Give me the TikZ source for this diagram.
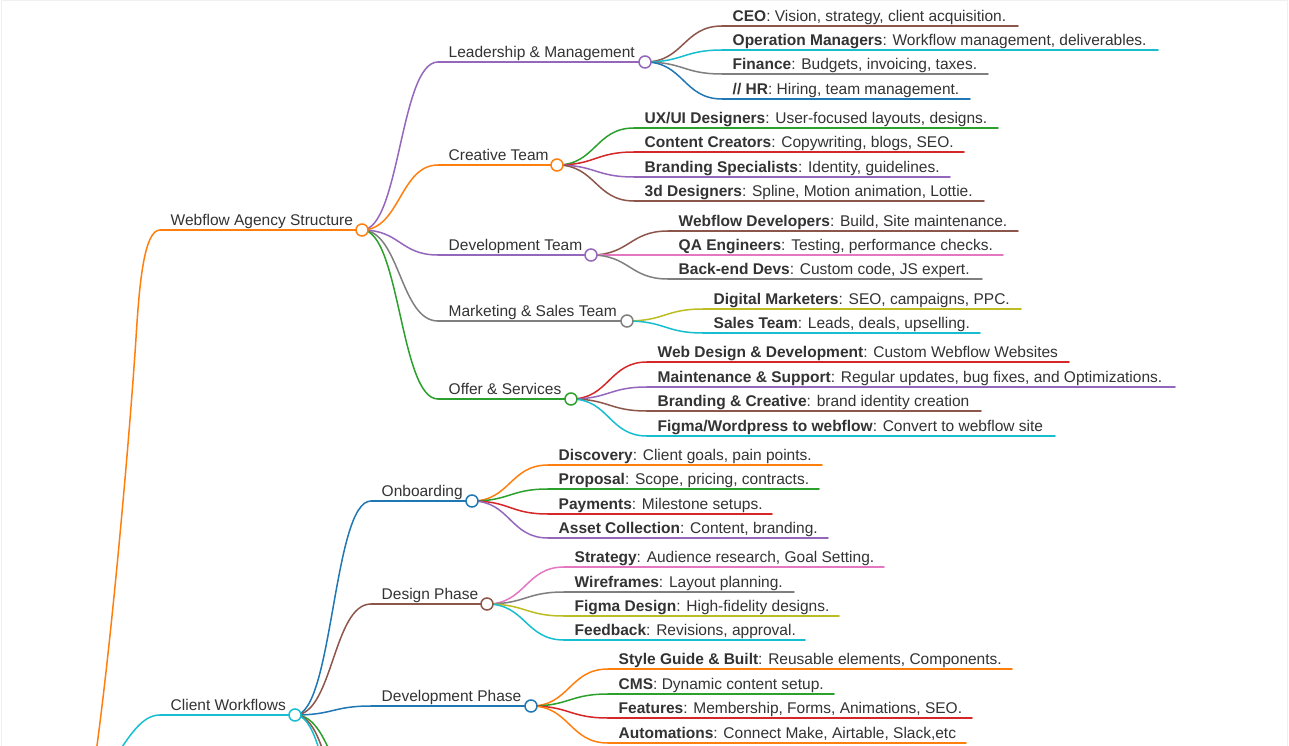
\documentclass[tikz,border=0pt]{standalone}
\usepackage{fontspec}
\setmainfont{Liberation Sans}
\usetikzlibrary{calc}
\definecolor{cblue}{HTML}{1F77B4}
\definecolor{corange}{HTML}{FF7F0E}
\definecolor{cgreen}{HTML}{2CA02C}
\definecolor{cred}{HTML}{D62728}
\definecolor{cpurple}{HTML}{9467BD}
\definecolor{cbrown}{HTML}{8C564B}
\definecolor{cpink}{HTML}{E377C2}
\definecolor{cgrey}{HTML}{7F7F7F}
\definecolor{colive}{HTML}{BCBD22}
\definecolor{ccyan}{HTML}{17BECF}
\definecolor{txt}{HTML}{333333}
\tikzset{
  ln/.style={line width=1.5pt, line cap=round},
  lbl/.style={anchor=base west, inner sep=0pt, text=txt, font=\fontsize{15.5}{18}\selectfont},
  dot/.style={circle, fill=white, line width=1.5pt, minimum size=12pt, inner sep=0pt},
  frame/.style={draw=black!6, line width=1pt}
}
\newcommand\mmnode[6]{%
  \coordinate (#1-s) at (#3,#4);
  \coordinate (#1-e) at (#5,#4);
  \draw[ln,#2] (#1-s) -- (#1-e);
  \node[lbl] (#1) at (#3+10.5,#4-4.5) {#6};}
\newcommand\mmlink[3]{%
  \draw[ln,#1] let \p1=(#2), \p2=(#3) in (#2) .. controls ({(\x1+\x2)/2},\y1) and ({(\x1+\x2)/2},\y2) .. (#3);}
\newcommand\mmdot[2]{\node[dot,draw=#2] (#1-c) at (#1-e) {};}
\begin{document}
\begin{tikzpicture}[x=1pt,y=-1pt]
\useasboundingbox (0,0) rectangle (1289,746);
\clip (0,0) rectangle (1289,746);
\fill[white] (0,0) rectangle (1289,746);
\draw[frame] (1.5,900) -- (1.5,1) -- (1287.5,1) -- (1287.5,900);
% level 1
\mmnode{wa}{corange}{160}{230}{362}{Webflow Agency Structure}
\mmnode{cw}{ccyan}{160}{715}{295}{Client Workflows}
% level 2 (agency)
\mmnode{lm}{cpurple}{438}{62}{645}{Leadership \& Management}
\mmnode{ct}{corange}{438}{165}{557}{Creative Team}
\mmnode{dt}{cpurple}{438}{255}{591}{Development Team}
\mmnode{ms}{cgrey}{438}{321}{627}{Marketing \& Sales Team}
\mmnode{os}{cgreen}{438}{399}{571}{Offer \& Services}
% leadership
\mmnode{ceo}{cbrown}{722}{26}{1018}{\textbf{CEO}: Vision, strategy, client acquisition.}
\mmnode{opm}{ccyan}{722}{50}{1158}{\textbf{Operation Managers}: Workflow management, deliverables.}
\mmnode{fin}{cgrey}{722}{74}{988}{\textbf{Finance}: Budgets, invoicing, taxes.}
\mmnode{hr}{cblue}{722}{99}{970}{\textbf{// HR}: Hiring, team management.}
% creative
\mmnode{ux}{cgreen}{634}{128}{998}{\textbf{UX/UI Designers}: User-focused layouts, designs.}
\mmnode{cc}{cred}{634}{152}{964}{\textbf{Content Creators}: Copywriting, blogs, SEO.}
\mmnode{bs}{cpurple}{634}{177}{950}{\textbf{Branding Specialists}: Identity, guidelines.}
\mmnode{dd}{cbrown}{634}{201}{984}{\textbf{3d Designers}: Spline, Motion animation, Lottie.}
% development team
\mmnode{wd}{cbrown}{668}{231}{1018}{\textbf{Webflow Developers}: Build, Site maintenance.}
\mmnode{qa}{cpink}{668}{255}{1003}{\textbf{QA Engineers}: Testing, performance checks.}
\mmnode{be}{cgrey}{668}{279}{982}{\textbf{Back-end Devs}: Custom code, JS expert.}
% marketing
\mmnode{dm}{colive}{703}{309}{1021}{\textbf{Digital Marketers}: SEO, campaigns, PPC.}
\mmnode{st}{ccyan}{703}{333}{980}{\textbf{Sales Team}: Leads, deals, upselling.}
% offer
\mmnode{wdd}{cred}{647}{362}{1069}{\textbf{Web Design \& Development}: Custom Webflow Websites}
\mmnode{mnt}{cpurple}{647}{387}{1175}{\textbf{Maintenance \& Support}: Regular updates, bug fixes, and Optimizations.}
\mmnode{brc}{cbrown}{647}{411}{981}{\textbf{Branding \& Creative}: brand identity creation}
\mmnode{fig}{ccyan}{647}{436}{1055}{\textbf{Figma/Wordpress to webflow}: Convert to webflow site}
% level 2 (client)
\mmnode{ob}{cblue}{371}{501}{472}{Onboarding}
\mmnode{dp}{cbrown}{371}{604}{487}{Design Phase}
\mmnode{dvp}{cblue}{371}{706}{531}{Development Phase}
\coordinate (cx1) at (370,800);
\coordinate (cx2) at (370,850);
\coordinate (cx3) at (370,900);
% onboarding
\mmnode{dis}{corange}{548}{465}{822}{\textbf{Discovery}: Client goals, pain points.}
\mmnode{pro}{cgreen}{548}{489}{819}{\textbf{Proposal}: Scope, pricing, contracts.}
\mmnode{pay}{cred}{548}{514}{772}{\textbf{Payments}: Milestone setups.}
\mmnode{ac}{cpurple}{548}{538}{828}{\textbf{Asset Collection}: Content, branding.}
% design phase
\mmnode{str}{cpink}{564}{567}{884}{\textbf{Strategy}: Audience research, Goal Setting.}
\mmnode{wf}{cgrey}{564}{592}{794}{\textbf{Wireframes}: Layout planning.}
\mmnode{fd}{colive}{564}{616}{839}{\textbf{Figma Design}: High-fidelity designs.}
\mmnode{fb}{ccyan}{564}{640}{805}{\textbf{Feedback}: Revisions, approval.}
% development phase
\mmnode{sg}{corange}{608}{669}{1012}{\textbf{Style Guide \& Built}: Reusable elements, Components.}
\mmnode{cms}{cgreen}{608}{694}{834}{\textbf{CMS}: Dynamic content setup.}
\mmnode{fea}{cred}{608}{718}{972}{\textbf{Features}: Membership, Forms, Animations, SEO.}
\mmnode{aut}{corange}{608}{743}{966}{\textbf{Automations}: Connect Make, Airtable, Slack,etc}
% root links (root lies below the visible area)
\coordinate (roota) at (95,760);
\coordinate (rootb) at (112,762);
\draw[ln,corange] (roota) .. controls (112,640) and (131,420) .. (136.5,330) .. controls (139.5,285) and (144,230) .. (wa-s);
\draw[ln,ccyan] (rootb) .. controls (130,735) and (142,715) .. (cw-s);
% links
\foreach \kc/\kn in {cpurple/lm, corange/ct, cpurple/dt, cgrey/ms, cgreen/os} {\mmlink{\kc}{wa-e}{\kn-s}}
\foreach \kc/\kn in {cbrown/ceo, ccyan/opm, cgrey/fin, cblue/hr} {\mmlink{\kc}{lm-e}{\kn-s}}
\foreach \kc/\kn in {cgreen/ux, cred/cc, cpurple/bs, cbrown/dd} {\mmlink{\kc}{ct-e}{\kn-s}}
\foreach \kc/\kn in {cbrown/wd, cpink/qa, cgrey/be} {\mmlink{\kc}{dt-e}{\kn-s}}
\foreach \kc/\kn in {colive/dm, ccyan/st} {\mmlink{\kc}{ms-e}{\kn-s}}
\foreach \kc/\kn in {cred/wdd, cpurple/mnt, cbrown/brc, ccyan/fig} {\mmlink{\kc}{os-e}{\kn-s}}
\foreach \kc/\kn in {cblue/ob-s, cbrown/dp-s, cblue/dvp-s, cgreen/cx1, cbrown/cx2, ccyan/cx3} {\mmlink{\kc}{cw-e}{\kn}}
\foreach \kc/\kn in {corange/dis, cgreen/pro, cred/pay, cpurple/ac} {\mmlink{\kc}{ob-e}{\kn-s}}
\foreach \kc/\kn in {cpink/str, cgrey/wf, colive/fd, ccyan/fb} {\mmlink{\kc}{dp-e}{\kn-s}}
\foreach \kc/\kn in {corange/sg, cgreen/cms, cred/fea, corange/aut} {\mmlink{\kc}{dvp-e}{\kn-s}}
% circles
\mmdot{wa}{corange}
\mmdot{cw}{ccyan}
\mmdot{lm}{cpurple}
\mmdot{ct}{corange}
\mmdot{dt}{cpurple}
\mmdot{ms}{cgrey}
\mmdot{os}{cgreen}
\mmdot{ob}{cblue}
\mmdot{dp}{cbrown}
\mmdot{dvp}{cblue}
\end{tikzpicture}
\end{document}
